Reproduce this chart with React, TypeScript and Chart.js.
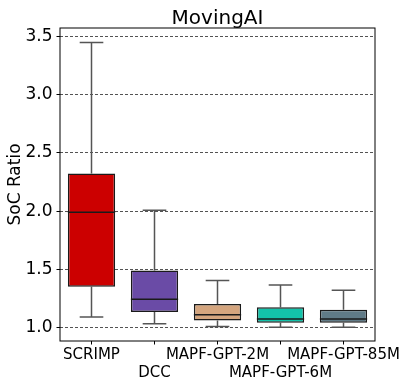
import React, { useEffect, useRef } from 'react';
import { Chart, registerables } from 'chart.js';

Chart.register(...registerables);

const categories = ['SCRIMP', 'DCC', 'MAPF-GPT-2M', 'MAPF-GPT-6M', 'MAPF-GPT-85M'];
const whiskerLow = [1.09, 1.033, 1.01, 1.004, 1.004];
const q1 = [1.35, 1.133, 1.06, 1.042, 1.042];
const median = [1.99, 1.244, 1.111, 1.073, 1.073];
const q3 = [2.324, 1.49, 1.202, 1.174, 1.154];
const whiskerHigh = [3.448, 2.008, 1.404, 1.366, 1.32];
const boxColors = ['#cc0000', '#6a4ba6', '#d4a57e', '#13c3aa', '#607b87'];
const yTicks = [1.0, 1.5, 2.0, 2.5, 3.0, 3.5];
const titleText = 'MovingAI';
const yTitle = 'SoC Ratio';

const FONT = "'DejaVu Sans', sans-serif";

const boxPlotPlugin = {
  id: 'boxplotExtras',
  beforeDatasetsDraw(chart: any) {
    const ctx = chart.ctx;
    const xs = chart.scales.x;
    const ys = chart.scales.y;
    const meta = chart.getDatasetMeta(0);
    ctx.save();
    ctx.strokeStyle = '#555555';
    ctx.lineWidth = 1.5;
    categories.forEach((_, i) => {
      const x = xs.getPixelForValue(i);
      const bw = meta.data[i] ? meta.data[i].width : 40;
      const half = bw / 4;
      const yLo = ys.getPixelForValue(whiskerLow[i]);
      const yQ1 = ys.getPixelForValue(q1[i]);
      const yQ3 = ys.getPixelForValue(q3[i]);
      const yHi = ys.getPixelForValue(whiskerHigh[i]);
      ctx.beginPath();
      ctx.moveTo(x, yQ3);
      ctx.lineTo(x, yHi);
      ctx.moveTo(x - half, yHi);
      ctx.lineTo(x + half, yHi);
      ctx.moveTo(x, yQ1);
      ctx.lineTo(x, yLo);
      ctx.moveTo(x - half, yLo);
      ctx.lineTo(x + half, yLo);
      ctx.stroke();
    });
    ctx.restore();
  },
  afterDatasetsDraw(chart: any) {
    const ctx = chart.ctx;
    const xs = chart.scales.x;
    const ys = chart.scales.y;
    const meta = chart.getDatasetMeta(0);
    ctx.save();
    ctx.strokeStyle = '#1a1a1a';
    ctx.lineWidth = 1.5;
    categories.forEach((_, i) => {
      const x = xs.getPixelForValue(i);
      const bw = meta.data[i] ? meta.data[i].width : 40;
      const y = ys.getPixelForValue(median[i]);
      ctx.beginPath();
      ctx.moveTo(x - bw / 2, y);
      ctx.lineTo(x + bw / 2, y);
      ctx.stroke();
    });
    const a = chart.chartArea;
    ctx.strokeStyle = '#000000';
    ctx.lineWidth = 1;
    ctx.strokeRect(a.left, a.top, a.right - a.left, a.bottom - a.top);
    ctx.fillStyle = '#000000';
    ctx.font = `20px ${FONT}`;
    ctx.textAlign = 'center';
    ctx.textBaseline = 'alphabetic';
    ctx.fillText(titleText, (a.left + a.right) / 2, 23.5);
    ctx.restore();
  },
};

export default function App() {
  const ref = useRef<HTMLCanvasElement | null>(null);
  useEffect(() => {
    if (!ref.current) return;
    const chart = new Chart(ref.current, {
      type: 'bar',
      data: {
        labels: categories,
        datasets: [
          {
            data: categories.map((_, i) => [q1[i], q3[i]]) as any,
            backgroundColor: boxColors,
            borderColor: '#1a1a1a',
            borderWidth: 1.5,
            borderSkipped: false,
            barPercentage: 0.75,
            categoryPercentage: 1,
          },
        ],
      },
      options: {
        responsive: false,
        animation: false,
        devicePixelRatio: 1,
        layout: { padding: { top: 28, right: 32, left: 0, bottom: 0 } },
        plugins: {
          legend: { display: false },
          tooltip: { enabled: false },
          title: { display: false },
        },
        scales: {
          x: {
            type: 'category',
            offset: true,
            afterFit: (s: any) => {
              s.height = 47;
            },
            grid: {
              display: true,
              drawOnChartArea: false,
              offset: false,
              tickLength: 3.5,
              tickColor: '#000000',
              color: '#000000',
            },
            border: { display: false },
            ticks: {
              autoSkip: false,
              maxRotation: 0,
              minRotation: 0,
              padding: 2,
              color: '#000000',
              font: { family: FONT, size: 15 },
              callback: (_v: any, i: number) => (i % 2 === 0 ? categories[i] : ['', categories[i]]),
            },
          },
          y: {
            type: 'linear',
            min: 0.885,
            max: 3.572,
            afterFit: (s: any) => {
              s.width = 60;
            },
            afterBuildTicks: (s: any) => {
              s.ticks = yTicks.map((v) => ({ value: v }));
            },
            grid: {
              color: 'rgba(0,0,0,0.85)',
              lineWidth: 0.8,
              tickLength: 3.5,
              tickColor: '#000000',
              tickWidth: 1,
            },
            border: { display: false, dash: [3, 2] },
            ticks: {
              padding: 4,
              color: '#000000',
              font: { family: FONT, size: 17 },
              callback: (v: any) => Number(v).toFixed(1),
            },
            title: {
              display: true,
              text: yTitle,
              color: '#000000',
              font: { family: FONT, size: 17 },
              padding: { top: 5, bottom: 0 },
            },
          },
        },
      },
      plugins: [boxPlotPlugin],
    });
    return () => chart.destroy();
  }, []);
  return (
    <div style={{ position: 'absolute', left: 0, top: 0, width: 407, height: 388 }}>
      <canvas ref={ref} width={407} height={388} style={{ display: 'block' }} />
    </div>
  );
}
